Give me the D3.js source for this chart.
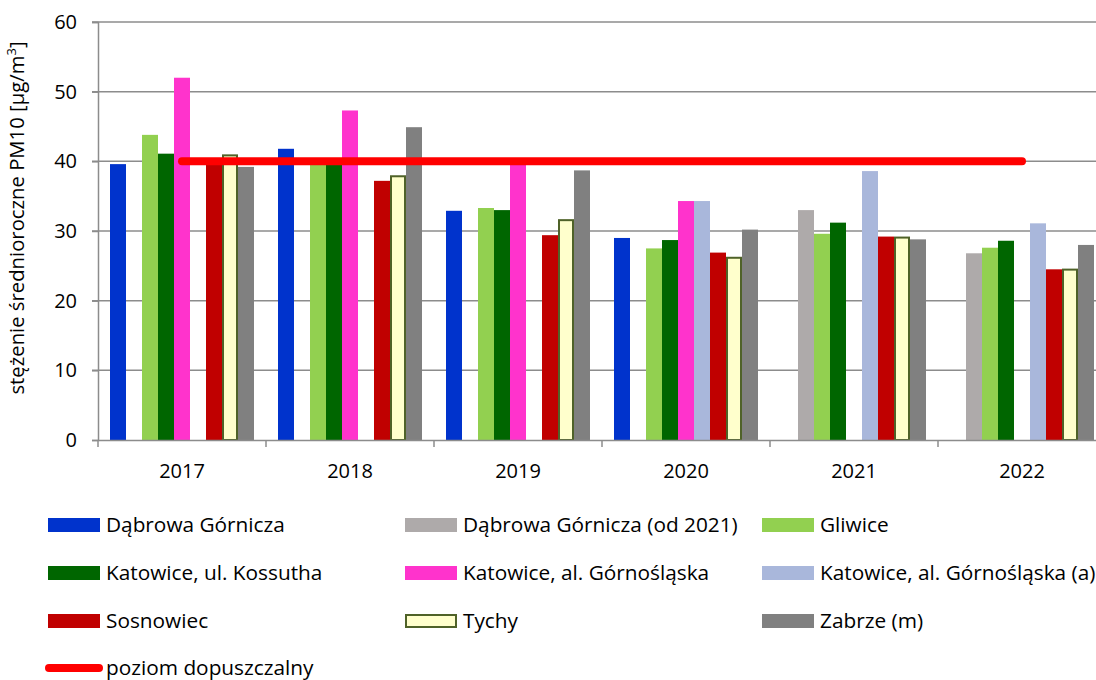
<!DOCTYPE html>
<html>
<head>
<meta charset="utf-8">
<script src="https://cdn.jsdelivr.net/npm/d3@7"></script>
<style>
  body { margin: 0; background: #fff; }
  svg text { font-family: "Open Sans", "Liberation Sans", sans-serif; fill: #000; }
</style>
</head>
<body>
<svg id="chart" width="1096" height="680"></svg>
<script>
// years on the x axis
var years = ['2017', '2018', '2019', '2020', '2021', '2022'];

// station names, in legend / bar order
var stations = [
  'Dąbrowa Górnicza',
  'Dąbrowa Górnicza (od 2021)',
  'Gliwice',
  'Katowice, ul. Kossutha',
  'Katowice, al. Górnośląska',
  'Katowice, al. Górnośląska (a)',
  'Sosnowiec',
  'Tychy',
  'Zabrze (m)'
];

// yearly PM10 means per station (null = no measurement)
var dabrowa      = [39.6, 41.8, 32.9, 29.0, null, null];
var dabrowaOd21  = [null, null, null, null, 33.0, 26.8];
var gliwice      = [43.8, 39.9, 33.3, 27.5, 29.6, 27.6];
var kossutha     = [41.1, 40.2, 33.0, 28.7, 31.2, 28.6];
var gornoslaska  = [52.0, 47.3, 39.8, 34.3, null, null];
var gornoslaskaA = [null, null, null, 34.3, 38.6, 31.1];
var sosnowiec    = [40.0, 37.2, 29.4, 26.9, 29.2, 24.5];
var tychy        = [41.0, 38.0, 31.7, 26.3, 29.2, 24.6];
var zabrze       = [39.2, 44.9, 38.7, 30.2, 28.8, 28.0];

// limit value
var limitValue = [40, 40, 40, 40, 40, 40];
var yTicks = [0, 10, 20, 30, 40, 50, 60];

var seriesValues = [dabrowa, dabrowaOd21, gliwice, kossutha, gornoslaska,
                    gornoslaskaA, sosnowiec, tychy, zabrze];
var colors = ['#0033CC', '#AEAAAA', '#92D050', '#006600', '#FF33CC',
              '#A9B7DB', '#C00000', '#FFFFCC', '#808080'];

var svg = d3.select('#chart');

var x = d3.scaleBand().domain(years).range([98, 1106]).padding(0);
var xInner = d3.scaleBand().domain(d3.range(stations.length))
    .range([0, x.bandwidth()]).paddingInner(0).paddingOuter(0.75);
var y = d3.scaleLinear().domain([0, 60]).range([440, 22]);

// horizontal grid
svg.append('g').selectAll('line')
  .data(yTicks.filter(function(d) { return d > 0; }))
  .enter().append('line')
  .attr('x1', 92).attr('x2', 1096)
  .attr('y1', function(d) { return y(d); })
  .attr('y2', function(d) { return y(d); })
  .attr('stroke', '#8C8C8C').attr('stroke-width', 1.5);

// y axis
var yAxis = d3.axisLeft(y).tickValues(yTicks).tickSize(6).tickPadding(8);
var gy = svg.append('g').attr('transform', 'translate(98,0)').call(yAxis);
gy.select('.domain').attr('stroke', '#8C8C8C').attr('stroke-width', 1.5);
gy.selectAll('.tick line').attr('stroke', '#8C8C8C').attr('stroke-width', 1.5);
gy.selectAll('.tick text').attr('font-size', 20).attr('dx', -7);

// bars
var groups = svg.append('g').selectAll('g')
  .data(years).enter().append('g')
  .attr('transform', function(d) { return 'translate(' + x(d) + ',0)'; });

groups.selectAll('rect')
  .data(function(yr, i) {
    return seriesValues.map(function(vals, s) { return { s: s, v: vals[i] }; })
      .filter(function(d) { return d.v != null; });
  })
  .enter().append('rect')
  .attr('x', function(d) { return xInner(d.s) + (d.s === 7 ? 1 : 0); })
  .attr('width', function(d) { return xInner.bandwidth() - (d.s === 7 ? 2 : 0); })
  .attr('y', function(d) { return y(d.v) + (d.s === 7 ? 1 : 0); })
  .attr('height', function(d) { return y(0) - y(d.v) - (d.s === 7 ? 1 : 0); })
  .attr('fill', function(d) { return colors[d.s]; })
  .attr('stroke', function(d) { return d.s === 7 ? '#4F6228' : 'none'; })
  .attr('stroke-width', 2);

// x axis
var xAxis = d3.axisBottom(x).tickSize(0).tickPadding(24);
var gx = svg.append('g').attr('transform', 'translate(0,440)').call(xAxis);
gx.select('.domain').attr('stroke', '#8C8C8C').attr('stroke-width', 1.5);
gx.selectAll('.tick text').attr('font-size', 20);
gx.selectAll('.sep')
  .data(years.concat(['end'])).enter().append('line')
  .attr('x1', function(d, i) { return 98 + i * x.step(); })
  .attr('x2', function(d, i) { return 98 + i * x.step(); })
  .attr('y1', 0).attr('y2', 7)
  .attr('stroke', '#8C8C8C').attr('stroke-width', 1.5);

// limit line
var line = d3.line()
  .x(function(d, i) { return x(years[i]) + x.bandwidth() / 2; })
  .y(function(d) { return y(d); });
svg.append('path')
  .datum(limitValue)
  .attr('d', line)
  .attr('fill', 'none')
  .attr('stroke', '#FF0000')
  .attr('stroke-width', 8)
  .attr('stroke-linecap', 'round');

// y title
svg.append('text')
  .attr('transform', 'translate(24,218) rotate(-90)')
  .attr('text-anchor', 'middle')
  .attr('font-size', 20.3)
  .html('stężenie średnioroczne PM10 [µg/m<tspan dy="-8" font-size="13">3</tspan><tspan dy="8">]</tspan>');

// legend
var legendCols = [48, 405, 762];
var legendRows = [525, 573, 621, 668];
var legend = svg.append('g').selectAll('g')
  .data(stations).enter().append('g')
  .attr('transform', function(d, i) {
    return 'translate(' + legendCols[i % 3] + ',' + legendRows[Math.floor(i / 3)] + ')';
  });
legend.append('rect')
  .attr('x', function(d, i) { return i === 7 ? 1 : 0; })
  .attr('y', function(d, i) { return i === 7 ? -6 : -7; })
  .attr('width', function(d, i) { return i === 7 ? 50 : 52; })
  .attr('height', function(d, i) { return i === 7 ? 12 : 14; })
  .attr('fill', function(d, i) { return colors[i]; })
  .attr('stroke', function(d, i) { return i === 7 ? '#4F6228' : 'none'; })
  .attr('stroke-width', 2);
legend.append('text')
  .attr('x', 58).attr('dy', '0.35em')
  .attr('font-size', 20.8)
  .text(function(d) { return d; });

var limitLegend = svg.append('g')
  .attr('transform', 'translate(' + legendCols[0] + ',' + legendRows[3] + ')');
limitLegend.append('line')
  .attr('x1', 1).attr('x2', 51)
  .attr('stroke', '#FF0000').attr('stroke-width', 8)
  .attr('stroke-linecap', 'round');
limitLegend.append('text')
  .attr('x', 58).attr('dy', '0.35em')
  .attr('font-size', 20.8)
  .text('poziom dopuszczalny');
</script>
</body>
</html>
